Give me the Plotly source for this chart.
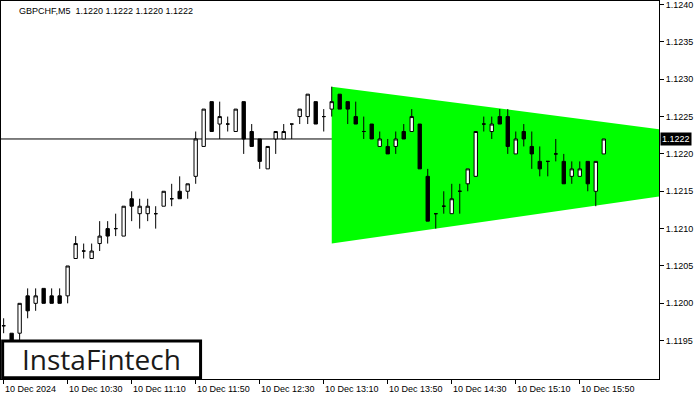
import plotly.graph_objects as go

# ---- data (GBPCHF M5, 10 Dec 2024, bars from 09:50) ----
opens = [1.1197, 1.1196, 1.1196, 1.1201, 1.1200, 1.1202, 1.1201, 1.1201, 1.1201, 1.1206,
         1.1207, 1.1206, 1.1208, 1.1210, 1.1210, 1.1209, 1.1214, 1.1212, 1.1212, 1.1212,
         1.1213, 1.1214, 1.1215, 1.1215, 1.1217, 1.1221, 1.1227, 1.1224, 1.1224, 1.1223,
         1.1227, 1.1223, 1.1222, 1.1218, 1.1222, 1.1222, 1.1224, 1.1225, 1.1225, 1.1227,
         1.1225, 1.1226, 1.1228, 1.1227, 1.1225, 1.1223, 1.1224, 1.1221, 1.1221, 1.1221,
         1.1223, 1.1223, 1.1224, 1.1217, 1.1212, 1.1213, 1.1212, 1.1215, 1.1216, 1.1217,
         1.1224, 1.1223, 1.1225, 1.1225, 1.1220, 1.1223, 1.1221, 1.1219, 1.1219, 1.1220,
         1.1219, 1.1217, 1.1217, 1.1219, 1.1215, 1.1220]
highs = [1.1198, 1.1196, 1.1200, 1.1202, 1.1202, 1.1202, 1.1202, 1.1202, 1.1205, 1.1209,
         1.1208, 1.1208, 1.1211, 1.1211, 1.1212, 1.1213, 1.1215, 1.1214, 1.1214, 1.1213,
         1.1215, 1.1216, 1.1217, 1.1216, 1.1223, 1.1226, 1.1227, 1.1227, 1.1225, 1.1226,
         1.1227, 1.1224, 1.1222, 1.1221, 1.1223, 1.1224, 1.1224, 1.1226, 1.1228, 1.1227,
         1.1226, 1.1229, 1.1228, 1.1227, 1.1227, 1.1225, 1.1224, 1.1223, 1.1222, 1.1223,
         1.1224, 1.1226, 1.1224, 1.1218, 1.1212, 1.1215, 1.1216, 1.1216, 1.1218, 1.1223,
         1.1225, 1.1225, 1.1226, 1.1226, 1.1223, 1.1224, 1.1223, 1.1221, 1.1219, 1.1222,
         1.1220, 1.1219, 1.1219, 1.1219, 1.1219, 1.1222]
lows = [1.1196, 1.1193, 1.1195, 1.1198, 1.1199, 1.1200, 1.1200, 1.1200, 1.1200, 1.1206,
        1.1206, 1.1206, 1.1207, 1.1208, 1.1209, 1.1209, 1.1211, 1.1210, 1.1211, 1.1210,
        1.1213, 1.1213, 1.1214, 1.1214, 1.1216, 1.1221, 1.1223, 1.1222, 1.1223, 1.1223,
        1.1220, 1.1221, 1.1218, 1.1218, 1.1220, 1.1222, 1.1222, 1.1224, 1.1224, 1.1224,
        1.1223, 1.1225, 1.1226, 1.1224, 1.1224, 1.1222, 1.1222, 1.1221, 1.1220, 1.1220,
        1.1222, 1.1223, 1.1218, 1.1211, 1.1210, 1.1212, 1.1212, 1.1212, 1.1215, 1.1217,
        1.1223, 1.1222, 1.1224, 1.1220, 1.1220, 1.1221, 1.1218, 1.1217, 1.1217, 1.1219,
        1.1216, 1.1216, 1.1217, 1.1215, 1.1213, 1.1220]
closes = [1.1197, 1.1194, 1.1200, 1.1199, 1.1201, 1.1200, 1.1200, 1.1200, 1.1205, 1.1208,
          1.1207, 1.1207, 1.1209, 1.1209, 1.1210, 1.1213, 1.1213, 1.1213, 1.1213, 1.1212,
          1.1215, 1.1214, 1.1214, 1.1216, 1.1222, 1.1226, 1.1223, 1.1225, 1.1224, 1.1226,
          1.1222, 1.1221, 1.1219, 1.1221, 1.1223, 1.1223, 1.1224, 1.1226, 1.1228, 1.1224,
          1.1225, 1.1227, 1.1226, 1.1226, 1.1224, 1.1223, 1.1222, 1.1222, 1.1220, 1.1222,
          1.1222, 1.1225, 1.1218, 1.1211, 1.1212, 1.1213, 1.1214, 1.1215, 1.1218, 1.1223,
          1.1224, 1.1224, 1.1224, 1.1221, 1.1222, 1.1222, 1.1220, 1.1218, 1.1219, 1.1220,
          1.1216, 1.1218, 1.1218, 1.1216, 1.1219, 1.1222]
bar_index = list(range(len(opens)))

tick_bars = [0, 8, 16, 24, 32, 40, 48, 56, 64, 72]
tick_labels = ["10 Dec 2024", "10 Dec 10:30", "10 Dec 11:10", "10 Dec 11:50", "10 Dec 12:30",
               "10 Dec 13:10", "10 Dec 13:50", "10 Dec 14:30", "10 Dec 15:10", "10 Dec 15:50"]
price_ticks = [1.1195, 1.1200, 1.1205, 1.1210, 1.1215, 1.1220, 1.1225, 1.1230, 1.1235, 1.1240]

# symmetrical triangle pattern (bar index, upper bound, lower bound)
pattern_bars = [41, 82]
pattern_upper = [1.1229, 1.12233]
pattern_lower = [1.1208, 1.12143]

current_price = 1.1222
x_range = [-0.33, 81.9]
y_range = [1.118987, 1.124047]

FONT = "Liberation Sans"

fig = go.Figure()

fig.add_trace(go.Candlestick(
    x=bar_index, open=opens, high=highs, low=lows, close=closes,
    increasing=dict(line=dict(color="black", width=1), fillcolor="white"),
    decreasing=dict(line=dict(color="black", width=1), fillcolor="black"),
    whiskerwidth=0, hoverinfo="skip", showlegend=False))

tri_pts = list(zip(pattern_bars, pattern_upper)) + list(zip(pattern_bars[::-1], pattern_lower[::-1]))
tri_path = "M " + " L ".join(f"{x},{y}" for x, y in tri_pts) + " Z"

annotations = [
    dict(x=0, y=1, xref="paper", yref="paper", xanchor="left", yanchor="top",
         xshift=16, yshift=-3, showarrow=False,
         text="GBPCHF,M5\u00a0\u00a01.1220 1.1222 1.1220 1.1222",
         font=dict(family=FONT, size=9, color="black")),
    dict(x=1, y=current_price, xref="paper", yref="y", xanchor="left", yanchor="middle",
         xshift=1, showarrow=False, text="1.1222", bgcolor="black", borderpad=1,
         font=dict(family=FONT, size=9, color="white")),
    dict(x=0.152, y=0.053, xref="paper", yref="paper", xanchor="center", yanchor="middle",
         showarrow=False, text="InstaFintech",
         font=dict(family="Open Sans", size=28, color="#1a1a1a", weight=500)),
]
for b, lab in zip(tick_bars, tick_labels):
    annotations.append(dict(x=b, y=0, xref="x", yref="paper", xanchor="left", yanchor="top",
                            yshift=-3, xshift=-1, showarrow=False, text=lab,
                            font=dict(family=FONT, size=9, color="black")))

shapes = [
    dict(type="path", xref="x", yref="y", path=tri_path, fillcolor="#00FF00",
         line=dict(width=0), layer="below"),
    dict(type="line", xref="paper", yref="y", x0=0, x1=1, y0=current_price, y1=current_price,
         line=dict(color="black", width=1), layer="below"),
    dict(type="rect", xref="paper", yref="paper", x0=0.0025, x1=0.3033, y0=0.003, y1=0.1005,
         fillcolor="white", line=dict(color="black", width=3), layer="above"),
]

fig.update_layout(
    width=700, height=400,
    margin=dict(l=1, r=41, t=1, b=21),
    paper_bgcolor="white", plot_bgcolor="white",
    boxgap=0.4,
    annotations=annotations, shapes=shapes,
    xaxis=dict(range=x_range, rangeslider=dict(visible=False), showgrid=False, zeroline=False,
               tickmode="array", tickvals=tick_bars, ticktext=[""] * len(tick_bars),
               ticks="outside", ticklen=4, tickcolor="black",
               showline=True, linecolor="black", linewidth=1, mirror=True),
    yaxis=dict(range=y_range, side="right", showgrid=False, zeroline=False, automargin=False,
               tickmode="array", tickvals=price_ticks, ticktext=[f"{v:.4f}" for v in price_ticks],
               ticks="outside", ticklen=4, tickcolor="black", ticklabeloverflow="allow",
               tickfont=dict(family=FONT, size=9, color="black"),
               showline=True, linecolor="black", linewidth=1, mirror=True),
    hovermode=False,
)

fig.write_html("out.html", config={"displayModeBar": False, "staticPlot": True},
               post_script="document.body.style.margin='0';")
